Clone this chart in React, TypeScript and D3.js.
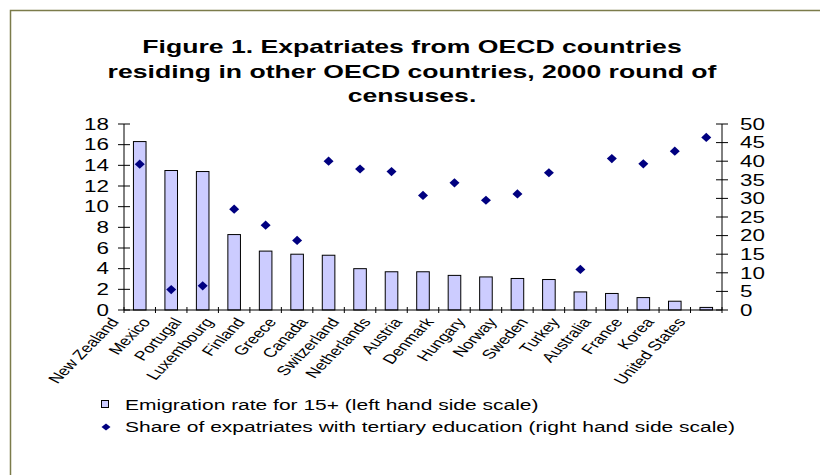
import React from "react";
import * as d3 from "d3";

const categories = [
  "New Zealand", "Mexico", "Portugal", "Luxembourg", "Finland", "Greece", "Canada",
  "Switzerland", "Netherlands", "Austria", "Denmark", "Hungary", "Norway", "Sweden",
  "Turkey", "Australia", "France", "Korea", "United States",
];
const emigrationRate = [
  16.3, 13.5, 13.4, 7.3, 5.7, 5.4, 5.3, 4.0, 3.7, 3.7, 3.35, 3.2, 3.05, 2.95, 1.75, 1.6, 1.2, 0.85, 0.25,
];
const tertiaryShare = [
  39.2, 5.5, 6.5, 27.1, 22.8, 18.7, 40.0, 37.9, 37.2, 30.8, 34.2, 29.5, 31.2, 36.9, 10.9, 40.7, 39.3, 42.7, 46.4,
];
const leftTicks = [0, 2, 4, 6, 8, 10, 12, 14, 16, 18];
const rightTicks = [0, 5, 10, 15, 20, 25, 30, 35, 40, 45, 50];
const titleLines = [
  "Figure 1. Expatriates from OECD countries",
  "residing in other OECD countries, 2000 round of",
  "censuses.",
];
const legendLabels = [
  "Emigration rate for 15+ (left hand side scale)",
  "Share of expatriates with tertiary education (right hand side scale)",
];

const W = 820;
const H = 475;
const plot = { left: 124, right: 722, top: 124, bottom: 310 };
const FONT = "Arial, 'Liberation Sans', sans-serif";
const SX = 1.4; // horizontal stretch of the original picture

export default function App() {
  const x = d3.scaleBand<string>().domain(categories).range([plot.left, plot.right]).paddingInner(0).paddingOuter(0);
  const yL = d3.scaleLinear().domain([0, 18]).range([plot.bottom, plot.top]);
  const yR = d3.scaleLinear().domain([0, 50]).range([plot.bottom, plot.top]);
  const bw = x.bandwidth() * 0.4;
  const diamond = "M0,-4.6L5,0L0,4.6L-5,0Z";
  const boundaries = categories.map((c) => x(c) as number).concat([plot.right]);
  const cx = (c: string) => (x(c) as number) + x.bandwidth() / 2;

  return (
    <div style={{ position: "absolute", left: 0, top: 0, margin: 0 }}>
      <svg width={W} height={H} style={{ display: "block", background: "#fff" }}>
        <rect x={10.5} y={10.5} width={W + 20} height={H + 20} fill="#fff" stroke="#7b7b4a" strokeWidth={1.5} />
        {titleLines.map((t, i) => (
          <text key={i} transform={`translate(412,${53 + i * 24.5}) scale(${SX},1)`} textAnchor="middle"
            fontFamily={FONT} fontWeight="bold" fontSize={19} fill="#000">
            {t}
          </text>
        ))}
        {/* bars */}
        {categories.map((c, i) => (
          <rect key={c} x={cx(c) - bw / 2} y={yL(emigrationRate[i])} width={bw} height={yL(0) - yL(emigrationRate[i])}
            fill="#ccccff" stroke="#000" strokeWidth={1} />
        ))}
        {/* axes */}
        <g stroke="#000" strokeWidth={1}>
          <line x1={plot.left} x2={plot.left} y1={plot.top} y2={plot.bottom} />
          <line x1={plot.right} x2={plot.right} y1={plot.top} y2={plot.bottom} />
          <line x1={plot.left} x2={plot.right} y1={plot.bottom} y2={plot.bottom} />
          {leftTicks.map((t) => (
            <line key={"l" + t} x1={plot.left - 6} x2={plot.left + 6} y1={yL(t)} y2={yL(t)} />
          ))}
          {rightTicks.map((t) => (
            <line key={"r" + t} x1={plot.right - 6} x2={plot.right + 6} y1={yR(t)} y2={yR(t)} />
          ))}
          {boundaries.map((b, i) => (
            <line key={"b" + i} x1={b} x2={b} y1={plot.bottom - 3} y2={plot.bottom + 3} />
          ))}
        </g>
        {leftTicks.map((t) => (
          <text key={"lt" + t} transform={`translate(${plot.left - 15},${yL(t)}) scale(${SX},1)`} dy="0.36em" textAnchor="end"
            fontFamily={FONT} fontSize={16} fill="#000">
            {t}
          </text>
        ))}
        {rightTicks.map((t) => (
          <text key={"rt" + t} transform={`translate(${plot.right + 18},${yR(t)}) scale(${SX},1)`} dy="0.36em" textAnchor="start"
            fontFamily={FONT} fontSize={16} fill="#000">
            {t}
          </text>
        ))}
        {/* diamonds */}
        {categories.map((c, i) => (
          <path key={"d" + c} d={diamond} transform={`translate(${cx(c)},${yR(tertiaryShare[i])})`} fill="#000080" />
        ))}
        {/* category labels */}
        {categories.map((c) => (
          <text key={"c" + c} transform={`translate(${cx(c) - 20},${plot.bottom + 12}) scale(${SX},1) rotate(-54.5)`}
            textAnchor="end" fontFamily={FONT} fontSize={13} fill="#000">
            {c}
          </text>
        ))}
        {/* legend */}
        <rect x={101.5} y={400.5} width={7} height={7} fill="#ccccff" stroke="#000" strokeWidth={1} />
        <text transform={`translate(125,410) scale(${SX},1)`} fontFamily={FONT} fontSize={15} fill="#000">{legendLabels[0]}</text>
        <path d="M0,-3.5L4.5,0L0,3.5L-4.5,0Z" transform="translate(106,427)" fill="#000080" />
        <text transform={`translate(125,432) scale(${SX},1)`} fontFamily={FONT} fontSize={15} fill="#000">{legendLabels[1]}</text>
      </svg>
    </div>
  );
}
